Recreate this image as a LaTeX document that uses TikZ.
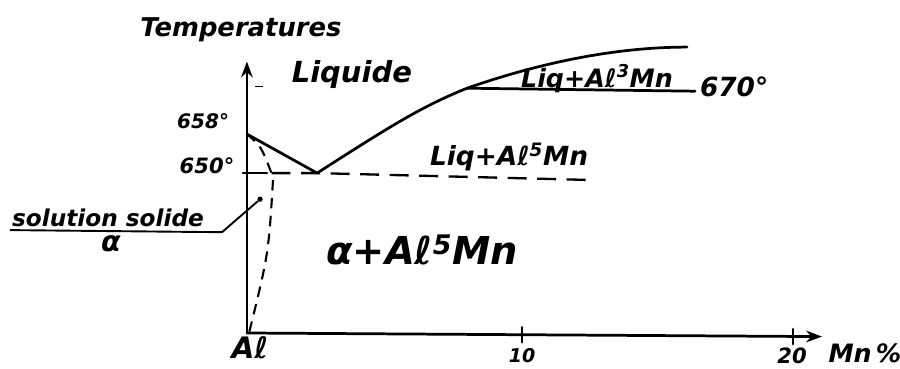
\documentclass[tikz,border=0pt]{standalone}
\usepackage{fontspec}
\setmainfont{DejaVu Sans}
\usepackage{tikz}
\usetikzlibrary{arrows.meta}
\usepackage{xcolor}
\definecolor{InkBlack}{HTML}{000000}
\newcommand{\handsize}[1]{\fontsize{#1}{#1}\selectfont\bfseries\itshape}
\tikzset{
    % Line styles
    axisline/.style={
        draw=InkBlack,
        line width=2.6pt,
        line cap=round
    },
    axisarrow/.style={
        axisline,
        -{Stealth[length=15pt,width=11pt]}
    },
    phaseline/.style={
        draw=InkBlack,
        line width=2.6pt,
        line cap=round
    },
    dashline/.style={
        draw=InkBlack,
        line width=2.2pt,
        dash pattern=on 18pt off 10pt
    },
    shortdash/.style={
        draw=InkBlack,
        line width=2pt,
        dash pattern=on 10pt off 7pt
    },
    % Text style
    handtext/.style={
        text=InkBlack,
        inner sep=0pt,
        anchor=center
    }
}

\begin{document}
\begin{tikzpicture}
    \useasboundingbox (0,0) rectangle (30,12.27);

    % Axes
    \coordinate (orig) at (8.23,1.17);
    \coordinate (ytop) at (8.23,10.22);
    \coordinate (xend) at (27.4,1.05);
    \draw[axisarrow] (orig) -- (ytop);
    \draw[axisarrow] (orig) -- (xend);
    \draw[axisline] (17.4,0.86) -- (17.4,1.36);
    \draw[axisline] (26.43,0.8) -- (26.43,1.3);
    \draw[InkBlack,line width=0.8pt] (8.5,9.4) -- (8.77,9.4);

    % Axis labels
    \node[handtext,font=\handsize{24.5}] (temp) at (8.03,11.27) {Temperatures};
    \node[handtext,font=\handsize{28}] (al) at (8.33,0.68) {Aℓ};
    \node[handtext,font=\handsize{18}] (ten) at (17.4,0.43) {10};
    \node[handtext,font=\handsize{20}] (twenty) at (26.4,0.4) {20};
    \node[handtext,font=\handsize{24}] (mnpct) at (28.83,0.5) {Mn\,\%};
    \node[handtext,font=\handsize{19}] (t658) at (6.77,8.23) {658°};
    \node[handtext,font=\handsize{20}] (t650) at (6.9,6.73) {650°};

    % Liquidus
    \coordinate (melt) at (8.23,7.8);
    \coordinate (eut) at (10.57,6.5);
    \coordinate (peri) at (15.57,9.33);
    \coordinate (liqend) at (22.9,10.7);
    \draw[phaseline] (melt) -- (eut);
    \draw[phaseline] (eut) .. controls (13.0,8.06) and (14.07,8.73) .. (peri)
        .. controls (17.97,10.17) and (20.5,10.7) .. (liqend);

    % Peritectic at 670
    \coordinate (periend) at (23.17,9.23);
    \draw[phaseline] (peri) -- (periend);

    % Eutectic at 650
    \coordinate (solid) at (9.05,6.5);
    \coordinate (eutend) at (19.67,6.27);
    \draw[phaseline] (8.1,6.5) -- (8.9,6.5);
    \draw[dashline] (solid) -- (eut) -- (eutend);

    % Solidus and solvus
    \coordinate (solvbot) at (8.3,1.17);
    \draw[shortdash] (melt) .. controls (8.7,7.4) .. (solid);
    \draw[shortdash] (9.1,6.27) .. controls (8.95,3.8) .. (solvbot);

    % Region labels
    \node[handtext,font=\handsize{27.5}] (liquide) at (11.73,9.77) {Liquide};
    \node[handtext,font=\handsize{24}] (liqthree) at (19.9,9.65) {Liq+Aℓ\textsuperscript{3}Mn};
    \node[handtext,font=\handsize{25}] (t670) at (24.47,9.37) {670°};
    \node[handtext,font=\handsize{25}] (liqfive) at (16.97,7.03) {Liq+Aℓ\textsuperscript{5}Mn};
    \node[handtext,font=\handsize{36.5}] (alpfive) at (14.07,3.93) {α+Aℓ\textsuperscript{5}Mn};

    % Solid solution leader
    \node[handtext,font=\handsize{22}] (solsol) at (3.6,5.0) {solution solide};
    \node[handtext,font=\handsize{27}] (alpha) at (3.7,4.13) {α};
    \node[circle,fill=InkBlack,inner sep=0pt,minimum size=5pt] (dot) at (8.67,5.63) {};
    \coordinate (knee) at (7.4,4.53);
    \coordinate (leadend) at (0.33,4.6);
    \draw[InkBlack,line width=1.8pt] (dot) -- (knee) -- (leadend);
\end{tikzpicture}
\end{document}
